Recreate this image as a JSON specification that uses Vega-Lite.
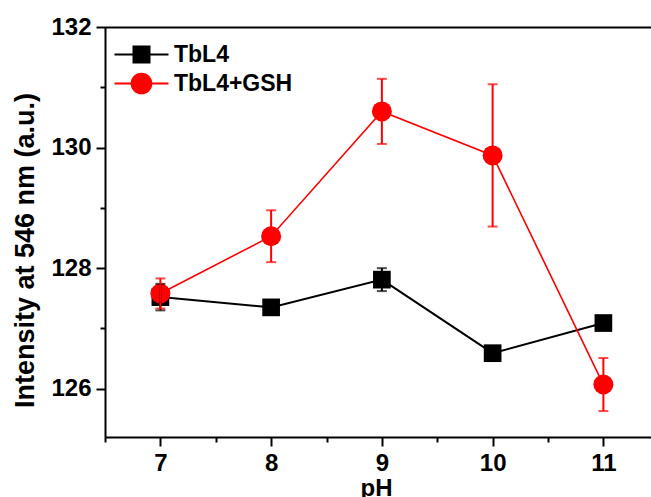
{
  "$schema": "https://vega.github.io/schema/vega-lite/v6.json",
  "width": 546,
  "height": 410,
  "autosize": {"type": "none"},
  "padding": {"left": 105, "top": 27, "right": 0, "bottom": 60},
  "background": "white",
  "config": {
    "view": {"stroke": null},
    "font": "Liberation Sans",
    "axis": {
      "grid": false,
      "domainColor": "#000000",
      "domainWidth": 2,
      "tickColor": "#000000",
      "tickWidth": 2,
      "labelFont": "Liberation Sans",
      "labelFontWeight": "bold",
      "labelFontSize": 24,
      "labelColor": "#000000",
      "titleFont": "Liberation Sans",
      "titleFontWeight": "bold",
      "titleColor": "#000000"
    }
  },
  "data": {
    "values": [
      {"pH": 7, "series": "TbL4", "intensity": 127.52, "err": 0.22},
      {"pH": 8, "series": "TbL4", "intensity": 127.35, "err": 0.05},
      {"pH": 9, "series": "TbL4", "intensity": 127.81, "err": 0.19},
      {"pH": 10, "series": "TbL4", "intensity": 126.59, "err": 0.06},
      {"pH": 11, "series": "TbL4", "intensity": 127.09, "err": 0.1},
      {"pH": 7, "series": "TbL4+GSH", "intensity": 127.58, "err": 0.25},
      {"pH": 8, "series": "TbL4+GSH", "intensity": 128.53, "err": 0.43},
      {"pH": 9, "series": "TbL4+GSH", "intensity": 130.6, "err": 0.54},
      {"pH": 10, "series": "TbL4+GSH", "intensity": 129.87, "err": 1.18},
      {"pH": 11, "series": "TbL4+GSH", "intensity": 126.07, "err": 0.44}
    ]
  },
  "resolve": {"axis": {"x": "independent", "y": "independent"}},
  "layer": [
    {
      "transform": [{"filter": "datum.series === 'TbL4'"}],
      "mark": {"type": "line", "color": "#000000", "strokeWidth": 2},
      "encoding": {
        "x": {
          "field": "pH", "type": "quantitative",
          "scale": {"domain": [6.5, 11.43], "nice": false, "zero": false},
          "axis": {
            "orient": "bottom", "values": [7, 8, 9, 10, 11], "tickSize": 9,
            "labelPadding": 5, "title": "pH", "titleFontSize": 24,
            "titleX": 271, "titleY": 58, "titleBaseline": "alphabetic", "titleAlign": "center"
          }
        },
        "y": {
          "field": "intensity", "type": "quantitative",
          "scale": {"domain": [125.2, 132], "nice": false, "zero": false},
          "axis": {
            "orient": "left", "values": [126, 128, 130, 132], "tickSize": 9,
            "labelPadding": 5, "title": "Intensity at 546 nm (a.u.)", "titleFontSize": 27,
            "titleAngle": -90, "titleX": -80, "titleY": 223,
            "titleAlign": "center", "titleBaseline": "middle"
          }
        }
      }
    },
    {
      "transform": [{"filter": "datum.series === 'TbL4'"}],
      "mark": {"type": "square", "color": "#000000", "filled": true, "size": 313, "opacity": 1},
      "encoding": {
        "x": {
          "field": "pH", "type": "quantitative",
          "axis": {"orient": "bottom", "values": [6.5, 7.5, 8.5, 9.5, 10.5], "tickSize": 5, "labels": false, "domain": false, "title": null}
        },
        "y": {
          "field": "intensity", "type": "quantitative",
          "axis": {"orient": "left", "values": [127, 129, 131], "tickSize": 5, "labels": false, "domain": false, "title": null}
        }
      }
    },
    {
      "transform": [{"filter": "datum.series === 'TbL4+GSH'"}],
      "mark": {"type": "line", "color": "#ff0000", "strokeWidth": 1.6},
      "encoding": {
        "x": {
          "field": "pH", "type": "quantitative",
          "axis": {"orient": "top", "ticks": false, "labels": false, "title": null}
        },
        "y": {"field": "intensity", "type": "quantitative", "axis": null}
      }
    },
    {
      "transform": [{"filter": "datum.series === 'TbL4+GSH'"}],
      "mark": {"type": "circle", "color": "#ff0000", "size": 400, "opacity": 1},
      "encoding": {
        "x": {"field": "pH", "type": "quantitative", "axis": null},
        "y": {"field": "intensity", "type": "quantitative", "axis": null}
      }
    },
    {
      "transform": [{"filter": "datum.series === 'TbL4'"}],
      "mark": {"type": "errorbar", "color": "#000000", "thickness": 2, "ticks": {"size": 10, "thickness": 2}},
      "encoding": {
        "x": {"field": "pH", "type": "quantitative", "axis": null},
        "y": {"field": "intensity", "type": "quantitative", "axis": null},
        "yError": {"field": "err"}
      }
    },
    {
      "transform": [{"filter": "datum.series === 'TbL4+GSH'"}],
      "mark": {"type": "errorbar", "color": "#ff0000", "thickness": 2, "ticks": {"size": 10, "thickness": 2}},
      "encoding": {
        "x": {"field": "pH", "type": "quantitative", "axis": null},
        "y": {"field": "intensity", "type": "quantitative", "axis": null},
        "yError": {"field": "err"}
      }
    },
    {
      "transform": [{"filter": "datum.pH > 100"}],
      "mark": {"type": "point", "filled": true, "opacity": 1},
      "encoding": {
        "x": {"field": "pH", "type": "quantitative", "axis": null},
        "y": {"field": "intensity", "type": "quantitative", "axis": null},
        "shape": {
          "field": "series", "type": "nominal",
          "scale": {
            "domain": ["TbL4", "TbL4+GSH"],
            "range": ["M-3,0H3M-0.9,-0.9H0.9V0.9H-0.9Z", "M-3,0H3M-1.1,0A1.1,1.1,0,1,0,1.1,0A1.1,1.1,0,1,0,-1.1,0Z"]
          },
          "legend": {
            "orient": "none", "legendX": 25, "legendY": 16, "title": null,
            "padding": 0, "symbolSize": 324, "symbolStrokeWidth": 1.8,
            "labelFont": "Liberation Sans", "labelFontWeight": "bold", "labelFontSize": 23,
            "labelColor": "#000000", "labelOffset": 21, "rowPadding": 3
          }
        },
        "fill": {
          "field": "series", "type": "nominal",
          "scale": {"domain": ["TbL4", "TbL4+GSH"], "range": ["#000000", "#ff0000"]},
          "legend": {
            "orient": "none", "legendX": 25, "legendY": 16, "title": null,
            "padding": 0, "symbolSize": 324, "symbolStrokeWidth": 1.8,
            "labelFont": "Liberation Sans", "labelFontWeight": "bold", "labelFontSize": 23,
            "labelColor": "#000000", "labelOffset": 21, "rowPadding": 3
          }
        },
        "stroke": {
          "field": "series", "type": "nominal",
          "scale": {"domain": ["TbL4", "TbL4+GSH"], "range": ["#000000", "#ff0000"]},
          "legend": {
            "orient": "none", "legendX": 25, "legendY": 16, "title": null,
            "padding": 0, "symbolSize": 324, "symbolStrokeWidth": 1.8,
            "labelFont": "Liberation Sans", "labelFontWeight": "bold", "labelFontSize": 23,
            "labelColor": "#000000", "labelOffset": 21, "rowPadding": 3
          }
        }
      }
    }
  ]
}
